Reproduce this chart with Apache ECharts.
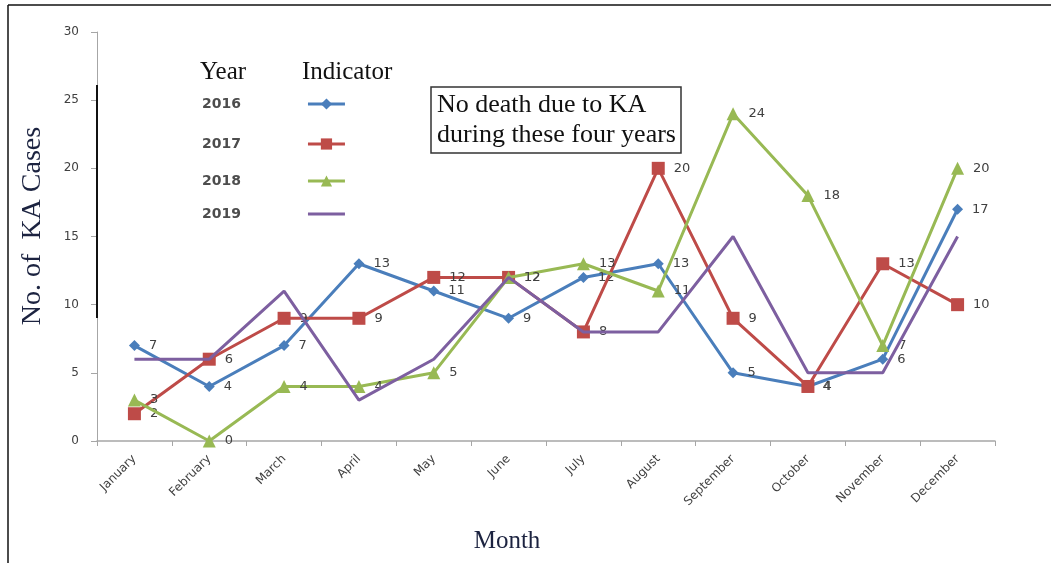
<!DOCTYPE html>
<html>
<head>
<meta charset="utf-8">
<script src="https://cdn.jsdelivr.net/npm/echarts@6/dist/echarts.min.js"></script>
<style>
  html, body { margin: 0; padding: 0; background: #fff; }
  #chart { width: 1051px; height: 563px; }
</style>
</head>
<body>
<div id="chart"></div>
<script>
// data
var months = ['January', 'February', 'March', 'April', 'May', 'June', 'July', 'August', 'September', 'October', 'November', 'December']
var years = ['2016', '2017', '2018', '2019']
var cases2016 = [7, 4, 7, 13, 11, 9, 12, 13, 5, 4, 6, 17]
var cases2017 = [2, 6, 9, 9, 12, 12, 8, 20, 9, 4, 13, 10]
var cases2018 = [3, 0, 4, 4, 5, 12, 13, 11, 24, 18, 7, 20]
var cases2019 = [6, 6, 11, 3, 6, 12, 8, 8, 15, 5, 5, 15]
var yTicks = [0, 5, 10, 15, 20, 25, 30]

var chart = echarts.init(document.getElementById('chart'))

var serif = '"Liberation Serif", "DejaVu Serif", serif'
var sans = '"DejaVu Sans", Verdana, sans-serif'
var colors = ['#4a7ebb', '#be4b48', '#98b954', '#7d5fa0']
var symbols = ['diamond', 'rect', 'triangle', 'none']
var symbolSizes = [11, 13, 13, 0]
var allData = [cases2016, cases2017, cases2018, cases2019]
var legendTops = [92, 132, 169, 202]

var series = years.map(function (y, i) {
  return {
    name: y,
    type: 'line',
    data: allData[i],
    symbol: symbols[i],
    symbolSize: symbolSizes[i],
    showSymbol: symbols[i] !== 'none',
    lineStyle: { width: 3, color: colors[i] },
    itemStyle: { color: colors[i] },
    label: {
      show: true,
      position: 'right',
      distance: 9,
      color: '#404040',
      fontFamily: sans,
      fontSize: 13
    },
    emphasis: { disabled: true },
    animation: false,
    z: 3 + i
  }
})

var legends = years.map(function (y, i) {
  return {
    data: [y],
    left: 197,
    top: legendTops[i],
    align: 'right',
    itemWidth: 37,
    itemHeight: 14,
    formatter: '{y|{name}}',
    lineStyle: { width: 3 },
    itemStyle: i === 3 ? { opacity: 0 } : {},
    textStyle: {
      rich: {
        y: { padding: [0, 62, 0, 0], fontFamily: sans, fontSize: 14, fontWeight: 'bold', color: '#4d4d4d' }
      }
    },
    selectedMode: false
  }
})

var option = {
  color: colors,
  title: {
    text: 'No death due to KA\nduring these four years',
    left: 431,
    top: 87,
    borderColor: '#333',
    borderWidth: 1.5,
    padding: [3, 5, 3, 6],
    textStyle: {
      fontFamily: serif,
      fontSize: 26,
      fontWeight: 'normal',
      color: '#111',
      lineHeight: 30
    }
  },
  legend: legends,
  grid: {
    left: 97,
    right: 56,
    top: 32,
    bottom: 122
  },
  xAxis: {
    type: 'category',
    data: months,
    boundaryGap: true,
    axisLine: { lineStyle: { color: '#a6a6a6', width: 1.5 } },
    axisTick: { show: true, length: 5, lineStyle: { color: '#a6a6a6' } },
    axisLabel: {
      rotate: 45,
      color: '#404040',
      fontFamily: sans,
      fontSize: 12,
      margin: 16
    }
  },
  yAxis: {
    type: 'value',
    min: yTicks[0],
    max: yTicks[yTicks.length - 1],
    interval: 5,
    splitLine: { show: false },
    axisLine: { show: true, lineStyle: { color: '#a6a6a6', width: 1 } },
    axisTick: { show: true, length: 6, lineStyle: { color: '#a6a6a6' } },
    axisLabel: {
      color: '#404040',
      fontFamily: sans,
      fontSize: 12,
      margin: 18
    }
  },
  graphic: [
    // outer frame (left and top only)
    { type: 'line', shape: { x1: 8, y1: 5, x2: 1051, y2: 5 }, style: { stroke: '#111', lineWidth: 1.5 } },
    { type: 'line', shape: { x1: 8, y1: 5, x2: 8, y2: 563 }, style: { stroke: '#111', lineWidth: 1.5 } },
    // dark segment on the y axis
    { type: 'line', shape: { x1: 97, y1: 85, x2: 97, y2: 318 }, style: { stroke: '#111', lineWidth: 2 }, z: 10 },
    {
      type: 'text', left: 200, top: 60,
      style: { text: 'Year', font: '25px ' + serif, fill: '#111' }
    },
    {
      type: 'text', left: 302, top: 60,
      style: { text: 'Indicator', font: '25px ' + serif, fill: '#111' }
    },
    {
      type: 'text', x: 33, y: 226, rotation: Math.PI / 2,
      style: { text: 'No. of  KA Cases', font: '28px ' + serif, fill: '#1c2340', align: 'center', verticalAlign: 'middle' }
    },
    {
      type: 'text', x: 507, y: 541,
      style: { text: 'Month', font: '25px ' + serif, fill: '#1c2340', align: 'center', verticalAlign: 'middle' }
    }
  ],
  series: series
}

option && chart.setOption(option)
</script>
</body>
</html>
